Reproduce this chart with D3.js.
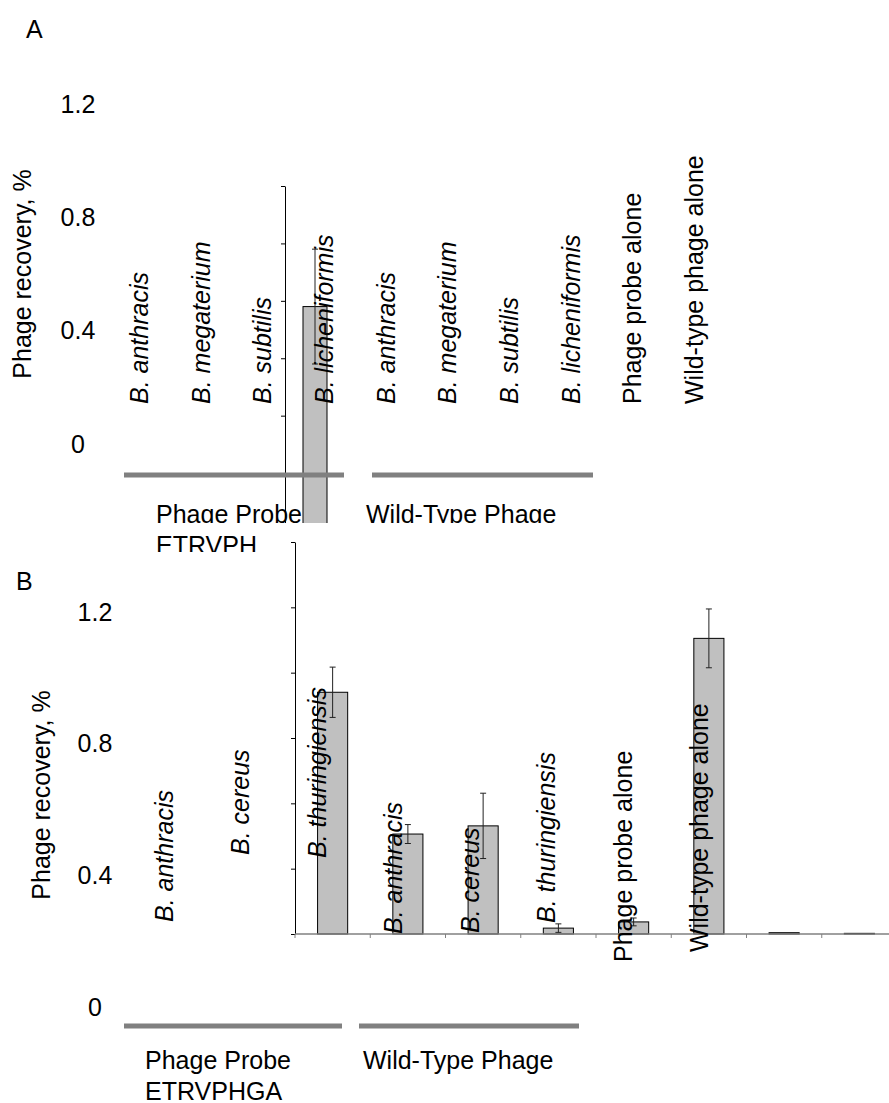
<!DOCTYPE html>
<html>
<head>
<meta charset="utf-8">
<script src="https://cdn.jsdelivr.net/npm/d3@7"></script>
<style>
  body { margin: 0; background: #fff; }
  text { font-family: "Liberation Sans", Arial, sans-serif; }
</style>
</head>
<body>
<div id="chart"></div>
<script>
// ---- data, panel A ----
const labelsA = ["B. anthracis", "B. megaterium", "B. subtilis", "B. licheniformis",
                 "B. anthracis", "B. megaterium", "B. subtilis", "B. licheniformis",
                 "Phage probe alone", "Wild-type phage alone"];
const valuesA = [0.78, 0, 0, 0, 0, 0, 0, 0, 0, 0];
const errorsA = [0.2, 0, 0, 0, 0, 0, 0, 0, 0, 0];
const groupsA = ["Phage Probe", "Wild-Type Phage"];
const probeNameA = "ETRVPH";

// ---- data, panel B ----
const labelsB = ["B. anthracis", "B. cereus", "B. thuringiensis",
                 "B. anthracis", "B. cereus", "B. thuringiensis",
                 "Phage probe alone", "Wild-type phage alone"];
const valuesB = [0.74, 0.306, 0.331, 0.018, 0.037, 0.905, 0.004, 0.002];
const errorsB = [0.077, 0.029, 0.1, 0.013, 0.012, 0.09, 0, 0];
const groupsB = ["Phage Probe", "Wild-Type Phage"];
const probeNameB = "ETRVPHGA";

const tickLabels = [1.2, 0.8, 0.4, 0];
const innerTicks = [0, 0.2, 0.4, 0.6, 0.8, 1.0, 1.2];
const yTitle = "Phage recovery, %";

const width = 889;
const height = 1103;

const svg = d3.select("#chart")
    .append("svg")
    .attr("width", width)
    .attr("height", height)
    .style("background-color", "white");

// panel A is cut off where panel B begins
svg.append("defs").append("clipPath")
    .attr("id", "clipA")
    .append("rect")
    .attr("x", 0).attr("y", 0).attr("width", width).attr("height", 523);

svg.append("defs").append("clipPath")
    .attr("id", "clipA2")
    .append("rect")
    .attr("x", 0).attr("y", 0).attr("width", width).attr("height", 552);

function drawPanel(cfg) {
    const x = d3.scaleBand()
        .domain(d3.range(cfg.values.length))
        .range(cfg.xRange);

    const y = d3.scaleLinear()
        .domain([0, 1.2])
        .range(cfg.yRange);

    const plot = svg.append("g");
    if (cfg.clip) plot.attr("clip-path", `url(#${cfg.clip})`);

    // bars
    plot.selectAll(".bar")
        .data(cfg.values)
        .join("rect")
        .attr("x", (d, i) => x(i) + x.bandwidth() * 0.3)
        .attr("y", d => y(d))
        .attr("width", x.bandwidth() * 0.4)
        .attr("height", d => y(0) - y(d))
        .attr("fill", "#c0c0c0")
        .attr("stroke", "black")
        .attr("stroke-width", 1);

    // error bars
    cfg.values.forEach((v, i) => {
        const e = cfg.errors[i];
        if (!e) return;
        const cx = x(i) + x.bandwidth() / 2;
        const g = plot.append("g").attr("stroke", "#222").attr("stroke-width", 1);
        g.append("line").attr("x1", cx).attr("x2", cx).attr("y1", y(v - e)).attr("y2", y(v + e));
        g.append("line").attr("x1", cx - 3).attr("x2", cx + 3).attr("y1", y(v - e)).attr("y2", y(v - e));
        g.append("line").attr("x1", cx - 3).attr("x2", cx + 3).attr("y1", y(v + e)).attr("y2", y(v + e));
    });

    // y axis
    plot.append("g")
        .attr("transform", `translate(${cfg.xRange[0]},0)`)
        .call(d3.axisLeft(y).tickValues(innerTicks).tickSize(4).tickSizeOuter(0).tickFormat(""))
        .attr("color", "black");

    // category baseline
    plot.append("line")
        .attr("x1", cfg.xRange[0]).attr("x2", cfg.xRange[1])
        .attr("y1", y(0)).attr("y2", y(0))
        .attr("stroke", "#808080").attr("stroke-width", 1.5);
    plot.selectAll(".xtick")
        .data(d3.range(cfg.values.length))
        .join("line")
        .attr("x1", d => x(d)).attr("x2", d => x(d))
        .attr("y1", y(0)).attr("y2", y(0) + 4)
        .attr("stroke", "#808080");

    // loose tick labels
    const yl = d3.scaleLinear().domain([0, 1.2]).range(cfg.tickLabelRange);
    svg.selectAll(null)
        .data(tickLabels)
        .join("text")
        .attr("x", cfg.tickLabelX)
        .attr("y", d => yl(d))
        .attr("dy", "0.35em")
        .attr("text-anchor", "middle")
        .style("font-size", "25px")
        .text(d => d);

    // y title
    svg.append("text")
        .attr("transform", `translate(${cfg.titlePos[0]},${cfg.titlePos[1]}) rotate(-90)`)
        .attr("text-anchor", "middle")
        .style("font-size", "25px")
        .text(yTitle);

    // panel letter
    svg.append("text")
        .attr("x", cfg.letterPos[0])
        .attr("y", cfg.letterPos[1])
        .style("font-size", "25px")
        .text(cfg.letter);

    // category labels
    const lx = d3.scalePoint().domain(d3.range(cfg.labels.length)).range(cfg.labelXRange);
    const labelLayer = cfg.clip ? svg.append("g").attr("clip-path", `url(#${cfg.clip})`) : svg.append("g");
    labelLayer.selectAll(null)
        .data(cfg.labels)
        .join("text")
        .attr("transform", (d, i) => `translate(${lx(i)},${cfg.labelBottom[i]}) rotate(-90)`)
        .attr("text-anchor", "start")
        .style("font-size", "25px")
        .style("font-style", d => d.startsWith("B. ") ? "italic" : "normal")
        .text(d => d);

    // group bars and names
    const grp = cfg.clip ? svg.append("g").attr("clip-path", `url(#${cfg.clip})`) : svg.append("g");
    cfg.groups.forEach((name, i) => {
        grp.append("line")
            .attr("x1", cfg.groupLines[i][0]).attr("x2", cfg.groupLines[i][1])
            .attr("y1", cfg.groupLineY).attr("y2", cfg.groupLineY)
            .attr("stroke", "#808080").attr("stroke-width", 5);
        grp.append("text")
            .attr("x", cfg.groupTextX[i])
            .attr("y", cfg.groupTextY)
            .style("font-size", "25px")
            .text(name);
    });

    const probeLayer = cfg.clip2 ? svg.append("g").attr("clip-path", `url(#${cfg.clip2})`) : svg.append("g");
    probeLayer.append("text")
        .attr("x", cfg.groupTextX[0])
        .attr("y", cfg.groupTextY + 31)
        .style("font-size", "25px")
        .text(cfg.probeName);
}

drawPanel({
    letter: "A",
    letterPos: [26, 38],
    values: valuesA,
    errors: errorsA,
    labels: labelsA,
    groups: groupsA,
    probeName: probeNameA,
    xRange: [285, 885],
    yRange: [530.5, 186],
    clip: "clipA",
    clip2: "clipA2",
    tickLabelRange: [444, 104],
    tickLabelX: 78,
    titlePos: [31, 274],
    labelXRange: [148, 703],
    labelBottom: labelsA.map(() => 404),
    groupLines: [[124, 344], [372, 593]],
    groupLineY: 475,
    groupTextX: [156, 366],
    groupTextY: 523
});

drawPanel({
    letter: "B",
    letterPos: [16, 590],
    values: valuesB,
    errors: errorsB,
    labels: labelsB,
    groups: groupsB,
    probeName: probeNameB,
    xRange: [295, 897],
    yRange: [934, 542],
    clip: null,
    clip2: null,
    tickLabelRange: [1007, 612],
    tickLabelX: 95,
    titlePos: [50, 795],
    labelXRange: [173, 708],
    labelBottom: [922, 855, 858, 934, 933, 923, 962, 952],
    groupLines: [[124, 342], [359, 579]],
    groupLineY: 1026,
    groupTextX: [145, 363],
    groupTextY: 1069
});
</script>
</body>
</html>
